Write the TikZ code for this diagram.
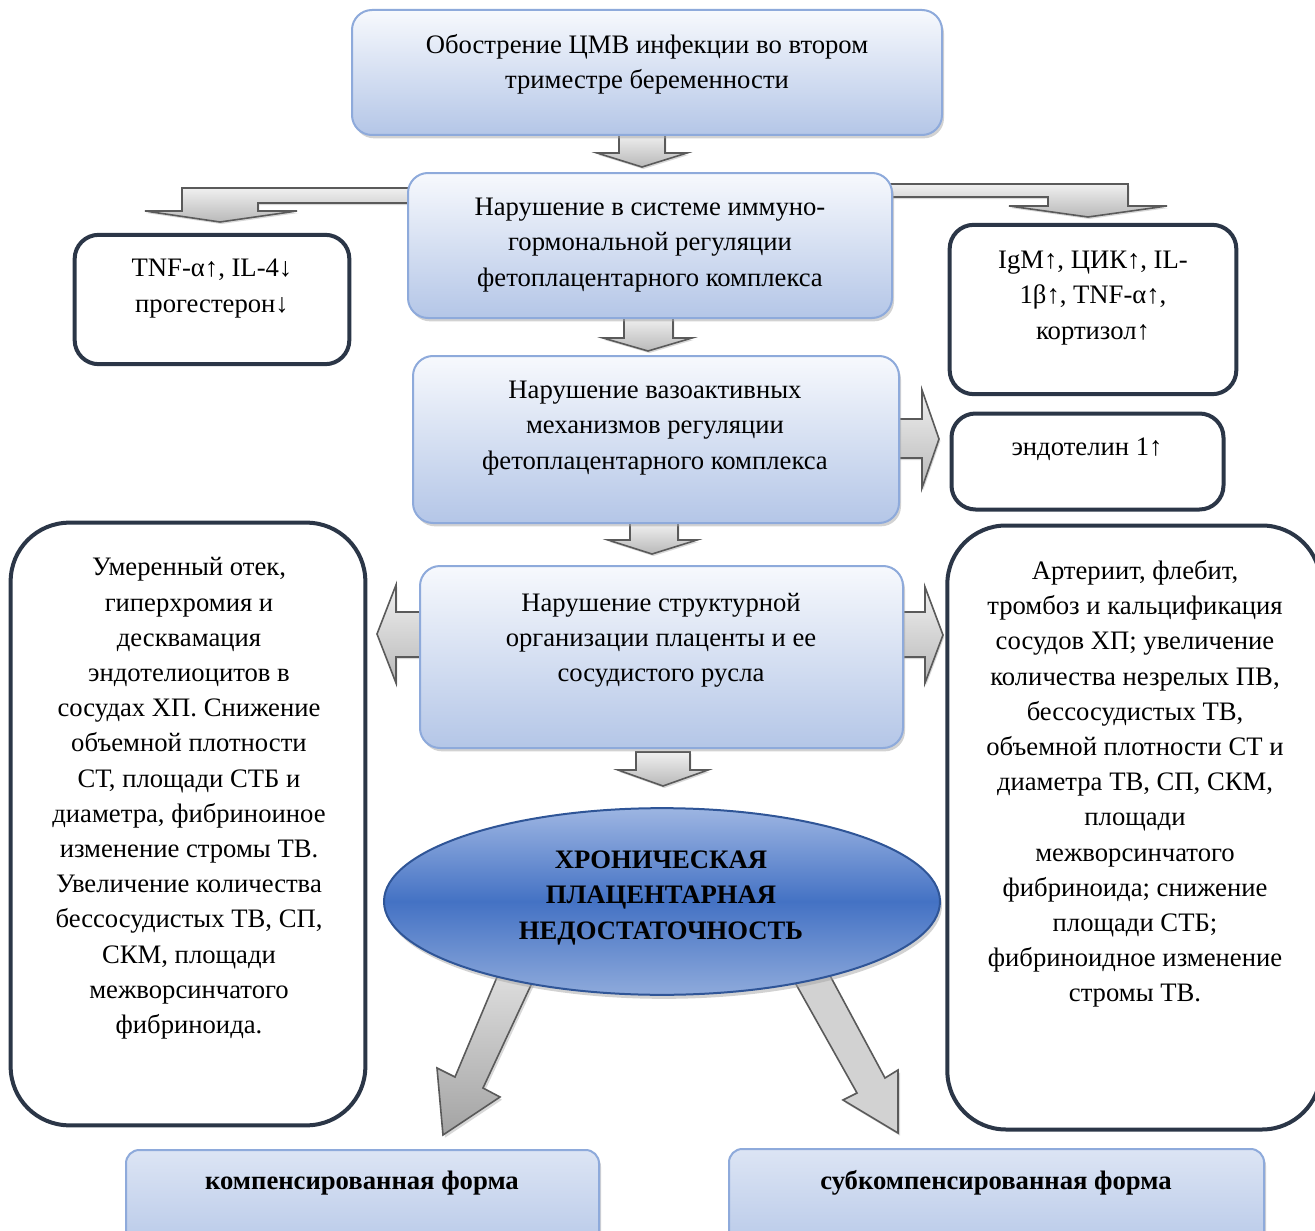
\documentclass[tikz,border=0pt]{standalone}
\usepackage{fontspec}
\setmainfont{Liberation Serif}
\usetikzlibrary{shadows,shapes.geometric,calc}
\definecolor{bbord}{HTML}{8EAADB}
\definecolor{btop}{HTML}{F7F9FD}
\definecolor{bbot}{HTML}{B4C6E7}
\definecolor{dbord}{HTML}{2B3647}
\definecolor{abord}{HTML}{5A5A5A}
\definecolor{ellmid}{HTML}{4472C4}
\definecolor{elltop}{HTML}{9DB5E2}
\definecolor{ellbot}{HTML}{8EAADB}
\definecolor{ellbord}{HTML}{2F5597}
\tikzset{
  txt/.style={align=center, inner sep=0pt, font=\fontsize{20}{26.4}\selectfont},
  bluebox/.style={draw=bbord, line width=1.5pt, rounded corners=15pt, top color=btop, bottom color=bbot,
    inner sep=0pt, drop shadow={shadow xshift=1.5pt, shadow yshift=-2.5pt, fill=gray!70, opacity=.5}},
  formbox/.style={draw=bbord, line width=1.5pt, rounded corners=10pt, top color=btop!60!bbot, bottom color=bbot,
    inner sep=0pt, drop shadow={shadow xshift=1.5pt, shadow yshift=-2.5pt, fill=gray!70, opacity=.5}},
  darkbox/.style={draw=dbord, line width=3pt, fill=white, rounded corners=18pt, inner sep=0pt},
  bigdark/.style={draw=dbord, line width=3pt, fill=white, rounded corners=44pt, inner sep=0pt},
  barrow/.style={draw=abord, line width=1.2pt, line join=miter, top color=gray!12, bottom color=gray!55,
    drop shadow={shadow xshift=1pt, shadow yshift=-1.5pt, fill=gray!60, opacity=.5}},
  darrow/.style={draw=abord, line width=1.2pt, top color=gray!25, bottom color=gray!72,
    drop shadow={shadow xshift=1.5pt, shadow yshift=-2pt, fill=gray!60, opacity=.5}},
  larrow/.style={draw=abord, line width=1.2pt, fill=gray!35,
    drop shadow={shadow xshift=1.5pt, shadow yshift=-2pt, fill=gray!60, opacity=.5}},
}
\begin{document}
\begin{tikzpicture}[x=0.75pt,y=-0.75pt]
\useasboundingbox (0,0) rectangle (1315,1231);
\clip (0,0) rectangle (1315,1231);
\fill[white] (0,0) rectangle (1315,1231);

% ---- block arrows (drawn first, under boxes)
% bent arrows from box 2
\path[barrow] (410,188) -- (182,188) -- (182,211) -- (145,211) -- (220,222) -- (297,211) -- (258,211) -- (258,203) -- (410,203) -- cycle;
\path[barrow] (890,184) -- (1128,184) -- (1128,206) -- (1167,206) -- (1088,217) -- (1009,206) -- (1048,206) -- (1048,197) -- (890,197) -- cycle;
% down arrows
\path[barrow] (619,134) -- (619,153) -- (597,153) -- (642,167) -- (687,153) -- (665,153) -- (665,134) -- cycle;
\path[barrow] (624,318) -- (624,338) -- (603,338) -- (648,351) -- (692,338) -- (673,338) -- (673,318) -- cycle;
\path[barrow] (630,523) -- (630,540) -- (608,540) -- (652,554) -- (697,540) -- (678,540) -- (678,523) -- cycle;
\path[barrow] (636,752) -- (636,770) -- (618,770) -- (663,786) -- (708,770) -- (690,770) -- (690,752) -- cycle;
% horizontal arrows
\path[barrow] (897,419) -- (922,419) -- (922,390) -- (939,439) -- (922,488) -- (922,458) -- (897,458) -- cycle;
\path[barrow] (422,612) -- (396,612) -- (396,585) -- (377,634) -- (396,683) -- (396,657) -- (422,657) -- cycle;
\path[barrow] (901,612) -- (925,612) -- (925,587) -- (943,635) -- (925,683) -- (925,657) -- (901,657) -- cycle;
% diagonal arrows
\path[darrow] (500,970) -- (538,970) -- (483,1088) -- (500,1097) -- (443,1135) -- (437,1068) -- (455,1077) -- cycle;
\path[larrow] (788,970) -- (827,970) -- (885,1078) -- (898,1070) -- (898,1133) -- (843,1100) -- (857,1093) -- cycle;

% ---- boxes
\node[bluebox, minimum width=442.5pt, minimum height=93.75pt] (b1) at (647,72.5) {};
\node[bluebox, minimum width=363pt, minimum height=108.75pt] (b2) at (650,245.5) {};
\node[bluebox, minimum width=364.5pt, minimum height=125.25pt] (b3) at (656,439.5) {};
\node[bluebox, minimum width=362.25pt, minimum height=136.5pt] (b4) at (661.5,657) {};
\node[darkbox, minimum width=206pt, minimum height=97pt] (tnf) at (212,299.5) {};
\node[darkbox, minimum width=215pt, minimum height=127pt] (igm) at (1093,309.5) {};
\node[darkbox, minimum width=204pt, minimum height=72pt] (endo) at (1087.5,461.5) {};
\node[bigdark, minimum width=266pt, minimum height=452pt] (lbig) at (188,824) {};
\node[bigdark, minimum width=280pt, minimum height=453pt] (rbig) at (1134,827.5) {};
\node[formbox, minimum width=354.75pt, minimum height=82.5pt] (fl) at (362.5,1205) {};
\node[formbox, minimum width=401.25pt, minimum height=83.25pt] (fr) at (996.5,1204.5) {};
\node[ellipse, draw=ellbord, line width=1.5pt, inner sep=0pt, minimum width=417pt, minimum height=140pt,
  top color=elltop, bottom color=ellbot, middle color=ellmid,
  drop shadow={shadow xshift=1.5pt, shadow yshift=-3pt, fill=gray!70, opacity=.5}] (ell) at (662,901.5) {};

% ---- texts
\node[txt] (t1) at (647,64) {Обострение ЦМВ инфекции во втором\\триместре беременности};
\node[txt] (t2) at (650,245) {Нарушение в системе иммуно-\\гормональной регуляции\\фетоплацентарного комплекса};
\node[txt] (t3) at (655,428) {Нарушение вазоактивных\\механизмов регуляции\\фетоплацентарного комплекса};
\node[txt] (t4) at (661,640) {Нарушение структурной\\организации плаценты и ее\\сосудистого русла};
\node[txt] (ttnf) at (212,288.5) {TNF-α↑, IL-4↓\\прогестерон↓};
\node[txt] (tigm) at (1093,298) {IgM↑, ЦИК↑, IL-\\1β↑, TNF-α↑,\\кортизол↑};
\node[txt] (tendo) at (1087,449) {эндотелин 1↑};
\node[txt] (tl) at (189,798.5) {Умеренный отек,\\гиперхромия и\\десквамация\\эндотелиоцитов в\\сосудах ХП. Снижение\\объемной плотности\\СТ, площади СТБ и\\диаметра, фибриноиное\\изменение стромы ТВ.\\Увеличение количества\\бессосудистых ТВ, СП,\\СКМ, площади\\межворсинчатого\\фибриноида.};
\node[txt] (tr) at (1135,784) {Артериит, флебит,\\тромбоз и кальцификация\\сосудов ХП; увеличение\\количества незрелых ПВ,\\бессосудистых ТВ,\\объемной плотности СТ и\\диаметра ТВ, СП, СКМ,\\площади\\межворсинчатого\\фибриноида; снижение\\площади СТБ;\\фибриноидное изменение\\стромы ТВ.};
\node[txt, font=\fontsize{20}{26.4}\selectfont\bfseries] (tell) at (661,898) {ХРОНИЧЕСКАЯ\\ПЛАЦЕНТАРНАЯ\\НЕДОСТАТОЧНОСТЬ};
\node[txt, font=\fontsize{20}{26.4}\selectfont\bfseries] (tfl) at (362,1183) {компенсированная форма};
\node[txt, font=\fontsize{20}{26.4}\selectfont\bfseries] (tfr) at (996,1183) {субкомпенсированная форма};
\end{tikzpicture}
\end{document}
